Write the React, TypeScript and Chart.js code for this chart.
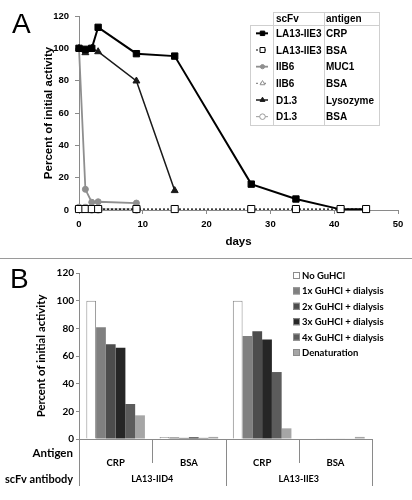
import React, { useEffect, useRef } from 'react';
import { Chart, registerables } from 'chart.js';
import { drawPoint } from 'chart.js/helpers';

Chart.register(...registerables);

// ---------- Panel A data ----------
const daysLa13 = [0, 1, 2, 3, 9, 15, 27, 34, 41, 45];
const la13CrpValues = [100, 99.4, 100, 113, 96.7, 95.2, 16, 6.8, 0.4, 0.4];
const la13BsaValues = [0.6, 0.6, 0.6, 0.6, 0.6, 0.6, 0.6, 0.6, 0.6, 0.6];
const daysIib6 = [0, 1, 2, 3, 9];
const iib6Muc1Values = [100, 12.8, 4.8, 5.1, 4.3];
const iib6BsaValues = [0.4, 0.4, 0.4, 0.4, 0.4];
const daysD13 = [0, 1, 2, 3, 9, 15];
const d13LysValues = [100, 97.3, 100, 97.9, 79.8, 12];
const daysD13Bsa = [0, 1, 2, 3, 9];
const d13BsaValues = [1, 1, 0.6, 0.6, 0.6];

const scfvNames = ['LA13-IIE3', 'LA13-IIE3', 'IIB6', 'IIB6', 'D1.3', 'D1.3'];
const antigenNames = ['CRP', 'BSA', 'MUC1', 'BSA', 'Lysozyme', 'BSA'];
const legendHeaderA = ['scFv', 'antigen'];

// ---------- Panel B data ----------
const antigenCats = ['CRP', 'BSA', 'CRP', 'BSA'];
const antibodyGroups = ['LA13-IID4', 'LA13-IIE3'];
const treatmentNames = [
  'No GuHCl',
  '1x GuHCl + dialysis',
  '2x GuHCl + dialysis',
  '3x GuHCl + dialysis',
  '4x GuHCl + dialysis',
  'Denaturation',
];
const noGuhclValues = [100, 1.5, 100, 0.4];
const gu1xValues = [80.7, 1.2, 74.5, 0.4];
const gu2xValues = [68.5, 0.8, 77.9, 0.4];
const gu3xValues = [66, 1.2, 72, 0.4];
const gu4xValues = [25.3, 0.8, 48.4, 0.4];
const denatValues = [17.1, 1.5, 7.7, 1.5];

const FONT_A = "'Liberation Sans', Arial, Helvetica, sans-serif";
const FONT_B = "Lato, 'Open Sans', sans-serif";
const AXIS_GREY = '#8a8a8a';

const pts = (xs: number[], ys: number[]) => xs.map((x, i) => ({ x, y: ys[i] }));

const panelAPlugin = {
  id: 'panelA',
  afterDraw(chart: any) {
    const ctx = chart.ctx as CanvasRenderingContext2D;
    ctx.save();
    // panel letter
    ctx.fillStyle = '#000';
    ctx.font = `28px ${FONT_A}`;
    ctx.textBaseline = 'alphabetic';
    ctx.textAlign = 'left';
    ctx.fillText('A', 12, 33);

    // legend table
    const c0 = 250, c1 = 273, c2 = 324, c3 = 379;
    const top = 12, head = 25, bottom = 125;
    const rowH = (bottom - head) / 6;
    ctx.strokeStyle = '#cfcfcf';
    ctx.lineWidth = 1;
    ctx.beginPath();
    ctx.moveTo(c1, top + 0.5); ctx.lineTo(c3, top + 0.5);
    ctx.moveTo(c0, head + 0.5); ctx.lineTo(c3, head + 0.5);
    ctx.moveTo(c0, bottom + 0.5); ctx.lineTo(c3 + 1, bottom + 0.5);
    ctx.moveTo(c0 + 0.5, head); ctx.lineTo(c0 + 0.5, bottom);
    ctx.moveTo(c1 + 0.5, top); ctx.lineTo(c1 + 0.5, bottom);
    ctx.moveTo(c2 + 0.5, top); ctx.lineTo(c2 + 0.5, bottom);
    ctx.moveTo(c3 + 0.5, top); ctx.lineTo(c3 + 0.5, bottom);
    ctx.stroke();

    ctx.font = `bold 10px ${FONT_A}`;
    ctx.fillStyle = '#000';
    ctx.textBaseline = 'middle';
    ctx.fillText(legendHeaderA[0], c1 + 3, (top + head) / 2 + 1);
    ctx.fillText(legendHeaderA[1], c2 + 2, (top + head) / 2 + 1);

    const datasets = chart.data.datasets;
    for (let i = 0; i < 6; i++) {
      const y = head + rowH * (i + 0.5);
      const ds = datasets[i];
      ctx.save();
      ctx.strokeStyle = ds.borderColor;
      ctx.lineWidth = ds.borderWidth;
      ctx.setLineDash(ds.borderDash || []);
      ctx.beginPath();
      ctx.moveTo(c0 + 6, y);
      ctx.lineTo(c1 - 5, y);
      ctx.stroke();
      ctx.setLineDash([]);
      ctx.fillStyle = ds.pointBackgroundColor;
      ctx.strokeStyle = ds.pointBorderColor;
      ctx.lineWidth = 1;
      drawPoint(ctx, { pointStyle: ds.pointStyle, rotation: 0, radius: ds.pointRadius * 0.7, borderWidth: 1 } as any, (c0 + c1) / 2 + 1, y);
      ctx.restore();
      ctx.fillStyle = '#000';
      ctx.fillText(scfvNames[i], c1 + 3, y + 1);
      ctx.fillText(antigenNames[i], c2 + 2, y + 1);
    }
    ctx.restore();
  },
};

const panelBPlugin = {
  id: 'panelB',
  afterDraw(chart: any) {
    const ctx = chart.ctx as CanvasRenderingContext2D;
    const area = chart.chartArea;
    const xs = chart.scales.x;
    ctx.save();
    ctx.fillStyle = '#000';
    ctx.font = `28px ${FONT_A}`;
    ctx.textBaseline = 'alphabetic';
    ctx.textAlign = 'left';
    ctx.fillText('B', 10, 29);

    // multi-level category separators
    const n = antigenCats.length;
    const catW = (area.right - area.left) / n;
    const shortEnd = area.bottom + 24;
    const longEnd = area.bottom + 47;
    ctx.strokeStyle = AXIS_GREY;
    ctx.lineWidth = 1;
    ctx.beginPath();
    for (let i = 0; i <= n; i++) {
      const x = Math.round(xs.getPixelForTick(Math.min(i, n - 1)) + (i === n ? catW / 2 : -catW / 2)) + 0.5;
      const end = i % 2 === 0 ? longEnd : shortEnd;
      ctx.moveTo(x, area.bottom);
      ctx.lineTo(x, end);
    }
    ctx.stroke();

    // group labels
    ctx.font = `bold 9px ${FONT_B}`;
    ctx.textAlign = 'center';
    ctx.textBaseline = 'middle';
    antibodyGroups.forEach((g, gi) => {
      const x = (xs.getPixelForTick(gi * 2) + xs.getPixelForTick(gi * 2 + 1)) / 2;
      ctx.fillText(g, x, area.bottom + 40);
    });

    // row headers
    ctx.textAlign = 'right';
    ctx.font = `bold 11.5px ${FONT_B}`;
    ctx.fillText('Antigen', 73, area.bottom + 14);
    ctx.font = `bold 11px ${FONT_B}`;
    ctx.fillText('scFv antibody', 73, area.bottom + 40);

    // legend
    ctx.textAlign = 'left';
    ctx.font = `bold 9.5px ${FONT_B}`;
    chart.data.datasets.forEach((ds: any, i: number) => {
      const y = 16.5 + i * 15.4;
      ctx.fillStyle = ds.backgroundColor;
      ctx.fillRect(293, y - 3.5, 7, 7);
      ctx.strokeStyle = '#8c8c8c';
      ctx.lineWidth = 1;
      ctx.strokeRect(293.5, y - 3, 6, 6);
      ctx.fillStyle = '#000';
      ctx.fillText(treatmentNames[i], 302, y + 0.5);
    });
    ctx.restore();
  },
};

export default function App() {
  const refA = useRef<HTMLCanvasElement>(null);
  const refB = useRef<HTMLCanvasElement>(null);

  useEffect(() => {
    const tickFontA = { family: FONT_A, size: 9.5, weight: 'bold' as const };
    const chartA = new Chart(refA.current as HTMLCanvasElement, {
      type: 'line',
      data: {
        datasets: [
          {
            label: 'LA13-IIE3 CRP', data: pts(daysLa13, la13CrpValues), order: 3,
            borderColor: '#000', borderWidth: 2, pointStyle: 'rect', pointRadius: 4.5,
            pointBackgroundColor: '#000', pointBorderColor: '#000', pointBorderWidth: 1, clip: false,
          } as any,
          {
            label: 'LA13-IIE3 BSA', data: pts(daysLa13, la13BsaValues), order: 0,
            borderColor: '#000', borderWidth: 1.2, borderDash: [2, 2], pointStyle: 'rect', pointRadius: 5,
            pointBackgroundColor: '#fff', pointBorderColor: '#000', pointBorderWidth: 1, clip: false,
          },
          {
            label: 'IIB6 MUC1', data: pts(daysIib6, iib6Muc1Values), order: 5,
            borderColor: '#8f8f8f', borderWidth: 1.8, pointStyle: 'circle', pointRadius: 3,
            pointBackgroundColor: '#8f8f8f', pointBorderColor: '#8f8f8f', pointBorderWidth: 1, clip: false,
          },
          {
            label: 'IIB6 BSA', data: pts(daysIib6, iib6BsaValues), order: 2,
            borderColor: '#8f8f8f', borderWidth: 1.2, borderDash: [2, 2], pointStyle: 'triangle', pointRadius: 4,
            pointBackgroundColor: '#fff', pointBorderColor: '#8f8f8f', pointBorderWidth: 1, clip: false,
          },
          {
            label: 'D1.3 Lysozyme', data: pts(daysD13, d13LysValues), order: 4,
            borderColor: '#1a1a1a', borderWidth: 1.5, pointStyle: 'triangle', pointRadius: 4,
            pointBackgroundColor: '#1a1a1a', pointBorderColor: '#1a1a1a', pointBorderWidth: 1, clip: false,
          },
          {
            label: 'D1.3 BSA', data: pts(daysD13Bsa, d13BsaValues), order: 1,
            borderColor: '#9a9a9a', borderWidth: 1, pointStyle: 'circle', pointRadius: 4,
            pointBackgroundColor: '#fff', pointBorderColor: '#9a9a9a', pointBorderWidth: 1.2, clip: false,
          },
        ],
      },
      options: {
        responsive: false,
        animation: false,
        devicePixelRatio: 1,
        layout: { padding: { left: 37, top: 16, right: 14, bottom: 0 } },
        plugins: { legend: { display: false }, tooltip: { enabled: false } },
        scales: {
          x: {
            type: 'linear', min: 0, max: 50,
            ticks: { stepSize: 10, color: '#000', font: tickFontA, padding: 5 },
            grid: { display: true, drawOnChartArea: false, color: AXIS_GREY, tickLength: 4 },
            border: { color: AXIS_GREY, width: 1 },
            title: { display: true, text: 'days', color: '#000', font: { family: FONT_A, size: 11.5, weight: 'bold' }, padding: { top: 2, bottom: 9 } },
            afterFit: (s: any) => { s.height = 48; },
          },
          y: {
            min: 0, max: 120,
            ticks: { stepSize: 20, color: '#000', font: tickFontA, padding: 6 },
            grid: { display: true, drawOnChartArea: false, color: AXIS_GREY, tickLength: 4 },
            border: { color: AXIS_GREY, width: 1 },
            title: { display: true, text: 'Percent of initial activity', color: '#000', font: { family: FONT_A, size: 11.5, weight: 'bold' }, padding: { top: 5, bottom: 2 } },
            afterFit: (s: any) => { s.width = 42; },
          },
        },
      },
      plugins: [panelAPlugin],
    });

    const tickFontB = { family: FONT_B, size: 9.5, weight: 'bold' as const };
    const barColors = ['#ffffff', '#808080', '#4d4d4d', '#262626', '#5c5c5c', '#a6a6a6'];
    const seriesB = [noGuhclValues, gu1xValues, gu2xValues, gu3xValues, gu4xValues, denatValues];
    const chartB = new Chart(refB.current as HTMLCanvasElement, {
      type: 'bar',
      data: {
        labels: antigenCats,
        datasets: seriesB.map((vals, i) => ({
          label: treatmentNames[i],
          data: vals,
          backgroundColor: barColors[i],
          borderColor: i === 0 ? '#8c8c8c' : barColors[i],
          borderWidth: i === 0 ? 1 : 0,
          categoryPercentage: 0.8,
          barPercentage: 1.0,
        })),
      },
      options: {
        responsive: false,
        animation: false,
        devicePixelRatio: 1,
        layout: { padding: { left: 31, top: 14, right: 40, bottom: 0 } },
        plugins: { legend: { display: false }, tooltip: { enabled: false } },
        scales: {
          x: {
            ticks: { color: '#000', font: tickFontB, padding: 10 },
            grid: { display: false },
            border: { color: AXIS_GREY, width: 1 },
            afterFit: (s: any) => { s.height = 61; },
          },
          y: {
            min: 0, max: 120,
            ticks: { stepSize: 20, color: '#000', font: { family: FONT_B, size: 10, weight: 'bold' }, padding: 2 },
            grid: { display: true, drawOnChartArea: false, color: AXIS_GREY, tickLength: 3 },
            border: { color: AXIS_GREY, width: 1 },
            title: { display: true, text: 'Percent of initial activity', color: '#000', font: { family: FONT_B, size: 11.3, weight: 'bold' }, padding: { top: 4, bottom: 2 } },
            afterFit: (s: any) => { s.width = 48; },
          },
        },
      },
      plugins: [panelBPlugin],
    });

    return () => {
      chartA.destroy();
      chartB.destroy();
    };
  }, []);

  return (
    <div style={{ position: 'absolute', left: 0, top: 0, width: 412, height: 500, background: '#fff' }}>
      <canvas ref={refA} width={412} height={258} style={{ position: 'absolute', left: 0, top: 0, width: 412, height: 258 }} />
      <div style={{ position: 'absolute', left: 0, top: 258, width: 412, height: 1, background: '#9a9a9a' }} />
      <canvas ref={refB} width={412} height={241} style={{ position: 'absolute', left: 0, top: 259, width: 412, height: 241 }} />
    </div>
  );
}
